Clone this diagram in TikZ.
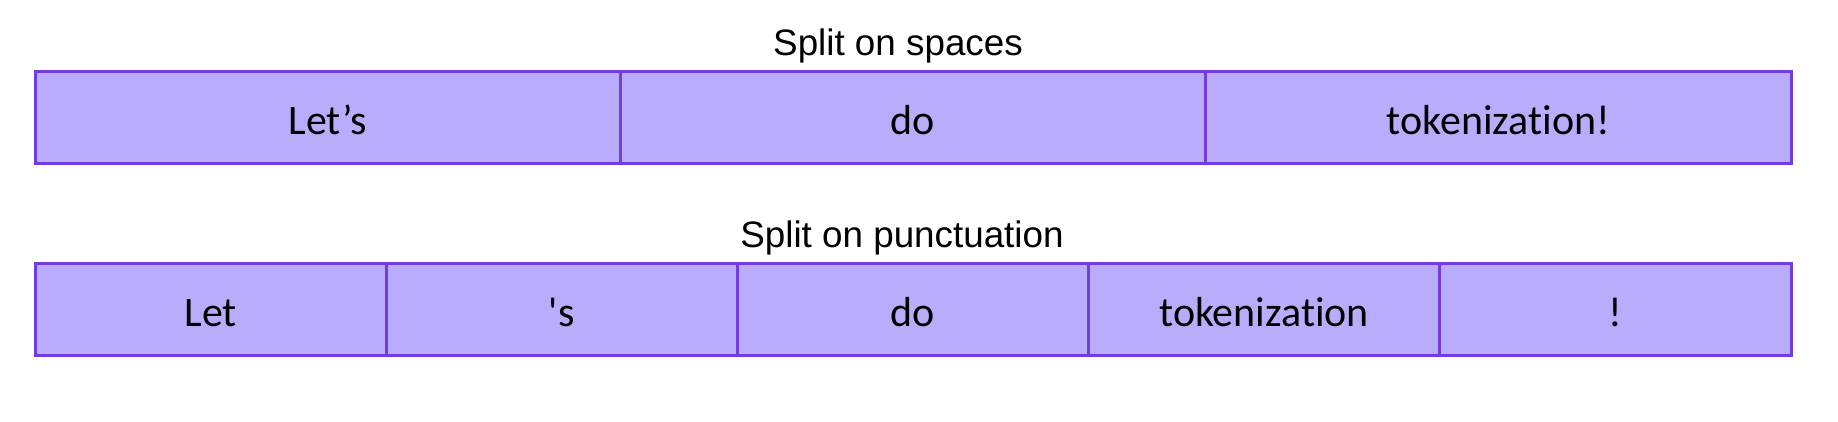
\documentclass[tikz,border=0pt]{standalone}
\usepackage{fontspec}
\setmainfont{Liberation Sans}
\newfontfamily\tokfont[Ligatures={TeXOff,NoCommon}]{Carlito}
\usetikzlibrary{positioning}

\definecolor{tokfill}{RGB}{186,172,252}
\definecolor{tokline}{RGB}{114,60,224}

\tikzset{
  token/.style={draw=tokline, fill=tokfill, line width=1.5pt, outer sep=0pt,
    inner sep=0pt, minimum height=46pt, text height=17pt, text depth=0pt,
    font=\tokfont\fontsize{21}{25}\selectfont},
  wide/.style={token, minimum width=292.67pt},
  narrow/.style={token, minimum width=175.6pt},
  caption/.style={font=\fontsize{18.4}{22}\selectfont}
}

\begin{document}
\begin{tikzpicture}[x=0.5pt, y=-0.5pt]
    \useasboundingbox (0,0) rectangle (1838,422);

    % split on spaces
    \node[caption] (spacetitle) at (898,46) {Split on spaces};
    \node[wide, anchor=west] (sp1) at (35,118) {Let’s};
    \node[wide, right=0pt of sp1] (sp2) {do};
    \node[wide, right=0pt of sp2] (sp3) {tokenization!};

    % split on punctuation
    \node[caption] (puncttitle) at (902,238) {Split on punctuation};
    \node[narrow, anchor=west] (pu1) at (35,310) {Let};
    \node[narrow, right=0pt of pu1] (pu2) {'s};
    \node[narrow, right=0pt of pu2] (pu3) {do};
    \node[narrow, right=0pt of pu3] (pu4) {tokenization};
    \node[narrow, right=0pt of pu4] (pu5) {!};
\end{tikzpicture}
\end{document}
